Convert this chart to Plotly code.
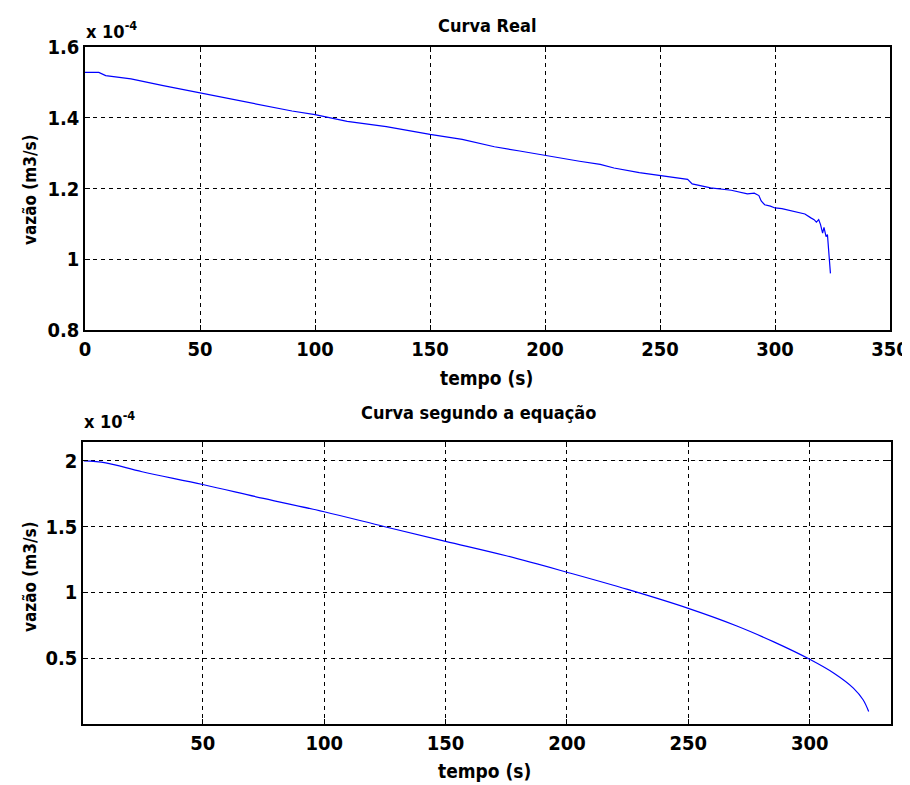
import plotly.graph_objects as go

# ---- data (vazão in units of 1e-4 m3/s) ----
t_real = [0, 6, 9, 20, 34, 50, 65, 80, 90, 100, 103, 114, 131, 150, 164, 178, 189, 200,
          215, 224, 230, 241, 250, 260, 262, 264, 272, 281, 288, 291, 293, 294, 295.5,
          298, 300, 303, 305, 308, 311, 313, 315.6, 317, 318, 319, 319.8, 320.7, 321.3,
          321.8, 322.2, 322.8, 323.2, 323.6, 324.1]
v_real = [1.528, 1.528, 1.519, 1.510, 1.491, 1.471, 1.452, 1.433, 1.419, 1.409, 1.405,
          1.390, 1.375, 1.353, 1.339, 1.318, 1.306, 1.293, 1.277, 1.268, 1.258, 1.245,
          1.237, 1.228, 1.226, 1.213, 1.202, 1.195, 1.185, 1.187, 1.180, 1.165, 1.154,
          1.150, 1.145, 1.143, 1.140, 1.136, 1.133, 1.128, 1.117, 1.112, 1.105, 1.112,
          1.098, 1.074, 1.090, 1.072, 1.064, 1.070, 1.036, 1.012, 0.960]

t_eq = [1, 10, 25, 50, 75, 100, 125, 150, 175, 200, 225, 250, 270, 285, 300, 310, 318,
        322, 324.3]
v_eq = [2.0, 1.985, 1.918, 1.821, 1.715, 1.614, 1.50, 1.389, 1.279, 1.154, 1.023, 0.879,
        0.745, 0.626, 0.492, 0.386, 0.273, 0.184, 0.095]

x_ticks_top = [0, 50, 100, 150, 200, 250, 300, 350]
y_ticks_top = [0.8, 1.0, 1.2, 1.4, 1.6]
y_labels_top = ["0.8", "1", "1.2", "1.4", "1.6"]
x_ticks_bot = [50, 100, 150, 200, 250, 300]
y_ticks_bot = [0.5, 1.0, 1.5, 2.0]
y_labels_bot = ["0.5", "1", "1.5", "2"]

OFF = 8  # page body margin
W, H = 910 - OFF, 785 - OFF
FONT = "DejaVu Sans Condensed, Liberation Sans, Arial, sans-serif"

def px(x):
    return (x - OFF) / W

def py(y):
    return 1 - (y - OFF) / H

fig = go.Figure()
fig.add_trace(go.Scatter(x=t_real, y=v_real, mode="lines",
                         line=dict(color="#0000ff", width=1.2), xaxis="x", yaxis="y",
                         showlegend=False))
fig.add_trace(go.Scatter(x=t_eq, y=v_eq, mode="lines", line_shape="spline",
                         line=dict(color="#0000ff", width=1.2), xaxis="x2", yaxis="y2",
                         showlegend=False))

axis_common = dict(
    showgrid=True, gridcolor="black", gridwidth=1, griddash="4px,4px",
    showline=True, linecolor="black", linewidth=1.5, mirror="ticks",
    ticks="inside", ticklen=5, tickcolor="black", tickwidth=1.2,
    zeroline=False, automargin=False, ticklabeloverflow="allow",
    tickfont=dict(family=FONT, size=20, color="black", weight="bold"),
)

fig.update_layout(
    width=W, height=H,
    margin=dict(l=0, r=0, t=0, b=0, autoexpand=False),
    paper_bgcolor="white", plot_bgcolor="white",
    xaxis=dict(domain=[px(85), px(890)], range=[0, 350], tickvals=x_ticks_top,
               anchor="y", **axis_common),
    yaxis=dict(domain=[py(330), py(47)], range=[0.8, 1.6], tickvals=y_ticks_top,
               ticktext=y_labels_top, anchor="x", **axis_common),
    xaxis2=dict(domain=[px(83), px(891)], range=[0.66, 333.5], tickvals=x_ticks_bot,
                anchor="y2", **axis_common),
    yaxis2=dict(domain=[py(724), py(442)], range=[0.0, 2.144], tickvals=y_ticks_bot,
                ticktext=y_labels_bot, anchor="x2", **axis_common),
)

def text(x, y, s, size=17, angle=0, xanchor="center"):
    fig.add_annotation(x=px(x), y=py(y), xref="paper", yref="paper", text=s,
                       showarrow=False, textangle=angle, xanchor=xanchor,
                       yanchor="middle",
                       font=dict(family=FONT, size=size, color="black", weight="bold"))

text(487, 25, "Curva Real", 18)
text(478, 412, "Curva segundo a equação", 18)
text(487, 378, "tempo (s)", 19)
text(484, 771, "tempo (s)", 19)
text(30, 190, "vazão (m3/s)", 17, angle=-90)
text(30, 577, "vazão (m3/s)", 17, angle=-90)
text(84, 30, "x 10<sup>-4</sup>", 18, xanchor="left")
text(82, 420, "x 10<sup>-4</sup>", 18, xanchor="left")

fig.write_html("out.html")
